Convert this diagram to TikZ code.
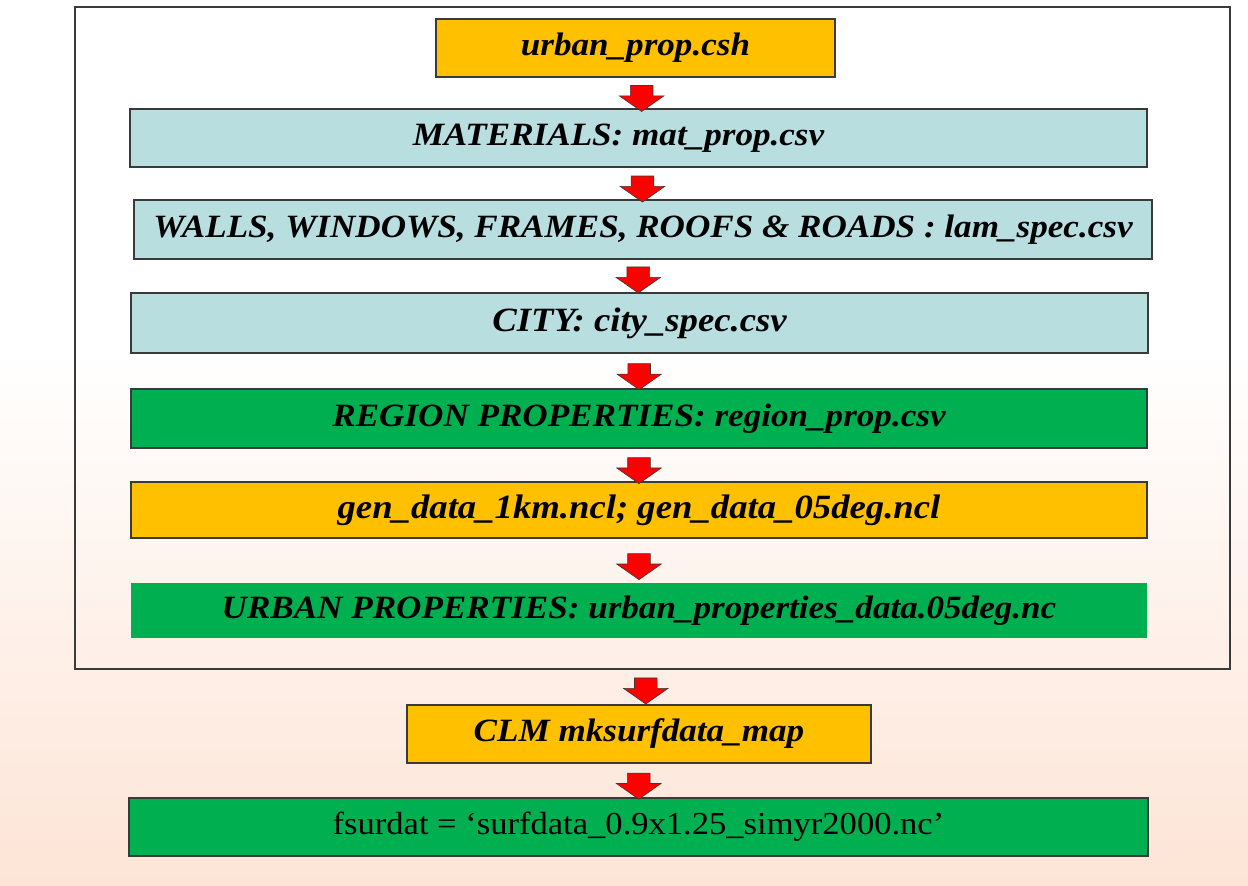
\documentclass[tikz,border=0pt]{standalone}
\usepackage{fontspec}
\setmainfont[FakeStretch=1.08]{Liberation Serif}
\usetikzlibrary{shapes.arrows,calc}
\definecolor{orangebox}{HTML}{FFC000}
\definecolor{bluebox}{HTML}{B8DEE0}
\definecolor{greenbox}{HTML}{00B050}
\definecolor{edge}{HTML}{3A3A3A}
\definecolor{peach}{HTML}{FDE4D6}
\tikzset{
  box/.style={rectangle, draw=edge, line width=1.3pt, inner sep=0pt,
    font=\fontsize{32.5}{38}\selectfont\bfseries\itshape, text=black},
  orangeb/.style={box, fill=orangebox},
  blueb/.style={box, fill=bluebox},
  greenb/.style={box, fill=greenbox},
  flow/.style={single arrow, draw=edge, line width=0.6pt, fill=red,
    shape border rotate=270, minimum height=26pt,
    single arrow head extend=11pt, single arrow tip angle=110, inner sep=0pt}
}
\newcommand{\shaft}{\rule{22pt}{0pt}}
\begin{document}
\begin{tikzpicture}[x=1pt,y=-1pt]
\useasboundingbox (0,0) rectangle (1248,886);
\fill[white] (0,0) rectangle (1248,886);
\shade[top color=white, bottom color=peach] (0,350) rectangle (1248,886);
\node[draw=edge, line width=1.4pt, minimum width=1155pt, minimum height=662pt, inner sep=0pt] (outer) at (652.5,338) {};
\node[orangeb, minimum width=399pt, minimum height=58pt] (b1) at (635.5,48) {urban\_prop.csh};
\node[blueb, minimum width=1017pt, minimum height=58pt] (b2) at (638.5,138) {MATERIALS: mat\_prop.csv\hspace*{40pt}};
\node[blueb, minimum width=1018pt, minimum height=59pt] (b3) at (643,229.5) {WALLS, WINDOWS, FRAMES, ROOFS \& ROADS : lam\_spec.csv};
\node[blueb, font=\fontsize{34}{38}\selectfont\bfseries\itshape, minimum width=1017pt, minimum height=60pt] (b4) at (639.5,323) {CITY: city\_spec.csv};
\node[greenb, minimum width=1016pt, minimum height=59pt] (b5) at (639,418.5) {REGION PROPERTIES: region\_prop.csv};
\node[orangeb, font=\fontsize{34}{38}\selectfont\bfseries\itshape, minimum width=1016pt, minimum height=56pt] (b6) at (639,510) {gen\_data\_1km.ncl; gen\_data\_05deg.ncl};
\node[greenb, draw=none, minimum width=1016pt, minimum height=55pt] (b7) at (639,610.5) {URBAN PROPERTIES: urban\_properties\_data.05deg.nc};
\node[orangeb, minimum width=464pt, minimum height=58pt] (b8) at (639,734) {CLM mksurfdata\_map};
\node[greenb, font=\fontsize{32}{38}\selectfont, minimum width=1019pt, minimum height=58pt] (b9) at (638.5,827) {fsurdat = ‘surfdata\_0.9x1.25\_simyr2000.nc’};
\node[flow] (a1) at ($(b1.south)!0.55!(b2.north)+(4.5,0)$) {\shaft};
\node[flow] (a2) at ($(b2.south)!0.55!(b3.north)+(1.5,0)$) {\shaft};
\node[flow] (a3) at ($(b3.south)!0.5!(b4.north)+(-3,0)$) {\shaft};
\node[flow] (a4) at ($(b4.south)!0.55!(b5.north)$) {\shaft};
\node[flow] (a5) at ($(b5.south)!0.55!(b6.north)$) {\shaft};
\node[flow] (a6) at ($(b6.south)!0.55!(b7.north)$) {\shaft};
\node[flow] (a7) at ($(outer.south)!0.5!(b8.north)$) {\shaft};
\node[flow] (a8) at ($(b8.south)!0.55!(b9.north)$) {\shaft};
\end{tikzpicture}
\end{document}
